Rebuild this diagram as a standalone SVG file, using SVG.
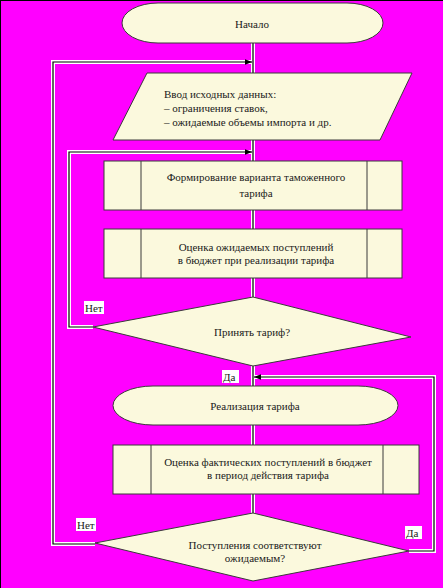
<svg xmlns="http://www.w3.org/2000/svg" width="443" height="588" viewBox="0 0 443 588">
<defs>
<style>
.bg{fill:#FF00FF}
.shape{fill:#FBF9DD;stroke:#3a3a3a;stroke-width:1}
.halo{fill:none;stroke:#ffffff;stroke-width:4;stroke-linejoin:miter}
.ln{fill:none;stroke:#000000;stroke-width:1.2}
.t{font-family:"Liberation Serif","Times New Roman",serif;font-size:11px;fill:#1a1a1a}
.c{text-anchor:middle}
.lbl{font-family:"Liberation Serif","Times New Roman",serif;font-size:11px;fill:#1a1a1a}
.lblbg{fill:#ffffff}
</style>
<marker id="arr" viewBox="0 0 10 10" refX="10" refY="5" markerWidth="7" markerHeight="7" orient="auto" markerUnits="userSpaceOnUse">
<path d="M0,1 L10,5 L0,9 z" fill="#000"/>
</marker>
</defs>
<rect class="bg" x="0" y="0" width="443" height="588"/>
<line x1="0" y1="0.5" x2="443" y2="0.5" stroke="#000" stroke-width="1"/>
<line x1="0.5" y1="0" x2="0.5" y2="588" stroke="#000" stroke-width="1"/>

<g id="connectors">
<path class="halo" d="M253,43 V73 M253,140 V161 M253,210 V229 M253,278 V297 M253,366 V386 M253,425 V445 M253,494 V513"/>
<path class="halo" d="M93,327 H69 V152 H253"/>
<path class="halo" d="M95,544 H53 V62 H253"/>
<path class="halo" d="M409,551 H434 V377 H254"/>
<path class="ln" d="M253,43 V73 M253,140 V161 M253,210 V229 M253,278 V297 M253,366 V386 M253,425 V445 M253,494 V513"/>
<path class="ln" d="M93,327 H69 V152 H252" marker-end="url(#arr)"/>
<path class="ln" d="M95,544 H53 V62 H252" marker-end="url(#arr)"/>
<path class="ln" d="M409,551 H434 V377 H254" marker-end="url(#arr)"/>
</g>

<g id="start">
<rect class="shape" x="122" y="3" width="261" height="40" rx="36" ry="20"/>
<text class="t c" x="252" y="28">Начало</text>
</g>

<g id="input">
<polygon class="shape" points="147,73 412,73 380,140 113,140"/>
<text class="t" x="164" y="98">Ввод исходных данных:</text>
<text class="t" x="164" y="112">– ограничения ставок,</text>
<text class="t" x="164" y="126">– ожидаемые объемы импорта и др.</text>
</g>

<g id="form">
<rect class="shape" x="104" y="161" width="298" height="49"/>
<line x1="141" y1="161" x2="141" y2="210" stroke="#3a3a3a"/>
<line x1="367" y1="161" x2="367" y2="210" stroke="#3a3a3a"/>
<text class="t c" x="256" y="181">Формирование варианта таможенного</text>
<text class="t c" x="256" y="197">тарифа</text>
</g>

<g id="estimate">
<rect class="shape" x="104" y="229" width="298" height="49"/>
<line x1="141" y1="229" x2="141" y2="278" stroke="#3a3a3a"/>
<line x1="367" y1="229" x2="367" y2="278" stroke="#3a3a3a"/>
<text class="t c" x="256" y="251">Оценка ожидаемых поступлений</text>
<text class="t c" x="256" y="264">в бюджет при реализации тарифа</text>
</g>

<g id="accept">
<polygon class="shape" points="253,297 411,337 253,366 93,327"/>
<text class="t c" x="252" y="336">Принять тариф?</text>
<rect class="lblbg" x="84" y="301" width="20" height="13"/>
<text class="lbl" x="85" y="312">Нет</text>
<rect class="lblbg" x="222" y="370" width="17" height="13"/>
<text class="lbl" x="223" y="381">Да</text>
</g>

<g id="implement">
<rect class="shape" x="113" y="386" width="285" height="39" rx="40" ry="19.5"/>
<text class="t c" x="255" y="410">Реализация тарифа</text>
</g>

<g id="actual">
<rect class="shape" x="113" y="445" width="306" height="49"/>
<line x1="151" y1="445" x2="151" y2="494" stroke="#3a3a3a"/>
<line x1="383" y1="445" x2="383" y2="494" stroke="#3a3a3a"/>
<text class="t c" x="268" y="466">Оценка фактических поступлений в бюджет</text>
<text class="t c" x="268" y="479">в период действия тарифа</text>
</g>

<g id="match">
<polygon class="shape" points="253,513 409,551 253,581 95,543"/>
<text class="t c" x="255" y="549">Поступления соответствуют</text>
<text class="t c" x="255" y="562">ожидаемым?</text>
<rect class="lblbg" x="76" y="518" width="20" height="13"/>
<text class="lbl" x="77" y="529">Нет</text>
<rect class="lblbg" x="405" y="526" width="17" height="13"/>
<text class="lbl" x="406" y="537">Да</text>
</g>
</svg>
